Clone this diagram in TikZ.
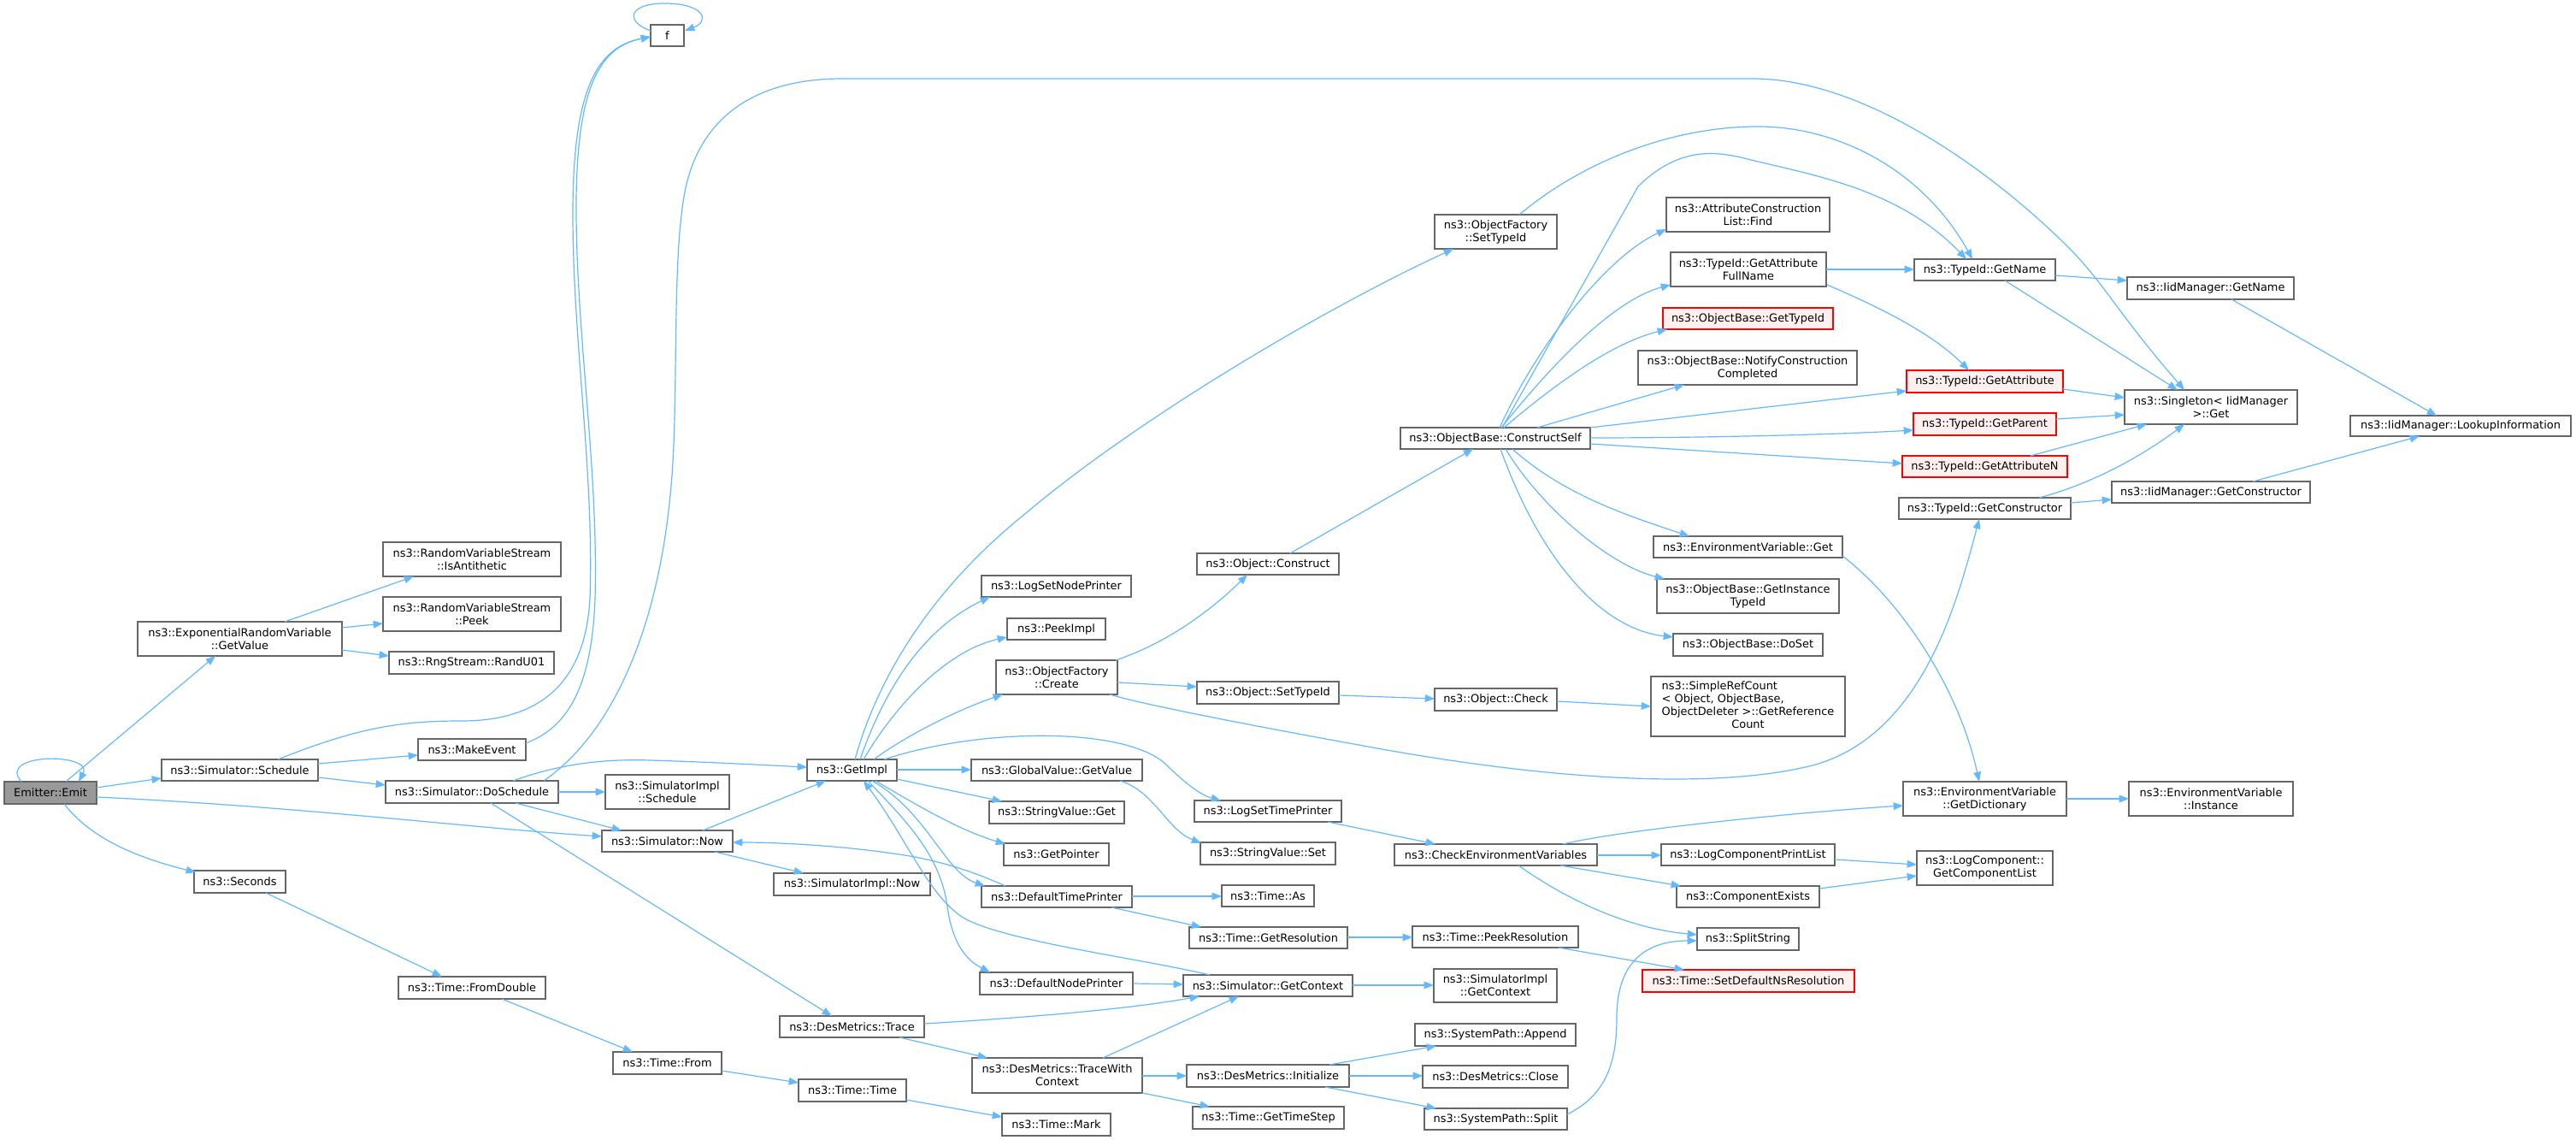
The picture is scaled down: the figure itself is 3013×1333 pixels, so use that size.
\documentclass[tikz,border=0pt]{standalone}
\usepackage{fontspec}
\setmainfont{DejaVu Sans}
\usetikzlibrary{arrows.meta}
\definecolor{edgec}{HTML}{63B8FF}
\definecolor{bordc}{HTML}{666666}
\definecolor{redfill}{HTML}{FFF0F0}
\definecolor{emitfill}{HTML}{999999}
\newcommand\mknode[7][]{\node[box,#1,minimum width={(#5-#3)*0.75pt},minimum height={(#6-#4)*0.75pt}] (#2) at ({(#3+#5)/2},{(#4+#6)/2}) {#7};}
\begin{document}
\begin{tikzpicture}[x=0.75pt,y=-0.75pt,
 box/.style={draw=bordc,fill=white,line width=1pt,inner sep=0pt,outer sep=0pt,align=center,text=black,font=\fontsize{9.7pt}{11.3pt}\selectfont},
 redst/.style={draw=red,fill=redfill},
 emitst/.style={draw=bordc,fill=emitfill},
 e/.style={draw=edgec,line width=0.9pt,-{Triangle[length=8.5pt,width=6.5pt]}}]
\useasboundingbox (0,0) rectangle (3013,1333);
% nodes
\mknode[emitst]{emit}{5}{914}{113}{940}{Emitter::Emit}
\mknode{erv}{161}{727}{400}{767}{ns3::ExponentialRandomVariable\\::GetValue}
\mknode{anti}{448}{634}{656}{674}{ns3::RandomVariableStream\\::IsAntithetic}
\mknode{peek}{448}{698}{656}{738}{ns3::RandomVariableStream\\::Peek}
\mknode{rand}{455}{762}{648}{788}{ns3::RngStream::RandU01}
\mknode{sched}{189}{888}{372}{913}{ns3::Simulator::Schedule}
\mknode{mkev}{489}{864}{615}{889}{ns3::MakeEvent}
\mknode{dosch}{451}{913}{653}{939}{ns3::Simulator::DoSchedule}
\mknode{f}{761}{29}{800}{54}{f}
\mknode{secs}{227}{1018}{334}{1044}{ns3::Seconds}
\mknode{fromd}{466}{1142}{638}{1168}{ns3::Time::FromDouble}
\mknode{from}{717}{1230}{844}{1256}{ns3::Time::From}
\mknode{ttime}{934}{1262}{1060}{1288}{ns3::Time::Time}
\mknode{mark}{1172}{1302}{1299}{1328}{ns3::Time::Mark}
\mknode{getimpl}{944}{888}{1049}{913}{ns3::GetImpl}
\mknode{simpsch}{708}{906}{853}{946}{ns3::SimulatorImpl\\::Schedule}
\mknode{now}{704}{971}{857}{996}{ns3::Simulator::Now}
\mknode{simpnow}{905}{1021}{1088}{1047}{ns3::SimulatorImpl::Now}
\mknode{trace}{912}{1188}{1081}{1213}{ns3::DesMetrics::Trace}
\mknode{twc}{1137}{1237}{1336}{1278}{ns3::DesMetrics::TraceWith\\Context}
\mknode{gv}{1136}{888}{1336}{913}{ns3::GlobalValue::GetValue}
\mknode{svget}{1157}{937}{1315}{963}{ns3::StringValue::Get}
\mknode{gptr}{1174}{986}{1297}{1012}{ns3::GetPointer}
\mknode{dtp}{1148}{1036}{1324}{1061}{ns3::DefaultTimePrinter}
\mknode{dnp}{1146}{1137}{1325}{1163}{ns3::DefaultNodePrinter}
\mknode{lsnp}{1148}{673}{1323}{698}{ns3::LogSetNodePrinter}
\mknode{peekimpl}{1178}{723}{1293}{748}{ns3::PeekImpl}
\mknode{create}{1165}{772}{1307}{812}{ns3::ObjectFactory\\::Create}
\mknode{construct}{1400}{647}{1566}{672}{ns3::Object::Construct}
\mknode{osti}{1400}{797}{1566}{823}{ns3::Object::SetTypeId}
\mknode{lstp}{1397}{936}{1569}{961}{ns3::LogSetTimePrinter}
\mknode{svset}{1404}{985}{1562}{1011}{ns3::StringValue::Set}
\mknode{cev}{1631}{987}{1868}{1012}{ns3::CheckEnvironmentVariables}
\mknode{lcpl}{1943}{987}{2146}{1012}{ns3::LogComponentPrintList}
\mknode{cex}{1961}{1036}{2128}{1061}{ns3::ComponentExists}
\mknode{split}{1985}{1085}{2104}{1111}{ns3::SplitString}
\mknode[redst]{sdnr}{1921}{1134}{2169}{1160}{ns3::Time::SetDefaultNsResolution}
\mknode{tas}{1429}{1035}{1537}{1060}{ns3::Time::As}
\mknode{tgr}{1391}{1084}{1576}{1109}{ns3::Time::GetResolution}
\mknode{tpr}{1652}{1083}{1846}{1108}{ns3::Time::PeekResolution}
\mknode{sgc}{1384}{1140}{1582}{1165}{ns3::Simulator::GetContext}
\mknode{sigc}{1677}{1133}{1821}{1172}{ns3::SimulatorImpl\\::GetContext}
\mknode{spa}{1655}{1197}{1843}{1223}{ns3::SystemPath::Append}
\mknode{init}{1388}{1245}{1578}{1271}{ns3::DesMetrics::Initialize}
\mknode{close}{1664}{1246}{1834}{1272}{ns3::DesMetrics::Close}
\mknode{gts}{1395}{1294}{1572}{1320}{ns3::Time::GetTimeStep}
\mknode{sps}{1666}{1296}{1833}{1321}{ns3::SystemPath::Split}
\mknode{ofsti}{1678}{251}{1821}{291}{ns3::ObjectFactory\\::SetTypeId}
\mknode{acl}{1949}{231}{2140}{271}{ns3::AttributeConstruction\\List::Find}
\mknode{gafn}{1954}{295}{2136}{335}{ns3::TypeId::GetAttribute\\FullName}
\mknode[redst]{obgt}{1945}{360}{2144}{385}{ns3::ObjectBase::GetTypeId}
\mknode{oncc}{1916}{410}{2172}{450}{ns3::ObjectBase::NotifyConstruction\\Completed}
\mknode{tgn}{2239}{303}{2404}{328}{ns3::TypeId::GetName}
\mknode[redst]{tga}{2230}{433}{2413}{459}{ns3::TypeId::GetAttribute}
\mknode[redst]{tgp}{2238}{483}{2405}{509}{ns3::TypeId::GetParent}
\mknode[redst]{tgan}{2225}{533}{2418}{558}{ns3::TypeId::GetAttributeN}
\mknode{ocs}{1638}{500}{1860}{525}{ns3::ObjectBase::ConstructSelf}
\mknode{tgc}{2221}{582}{2422}{607}{ns3::TypeId::GetConstructor}
\mknode{evget}{1934}{627}{2155}{652}{ns3::EnvironmentVariable::Get}
\mknode{ogit}{1938}{677}{2151}{717}{ns3::ObjectBase::GetInstance\\TypeId}
\mknode{doset}{1957}{741}{2132}{767}{ns3::ObjectBase::DoSet}
\mknode{ocheck}{1678}{805}{1821}{831}{ns3::Object::Check}
\mknode{src}{1931}{791}{2158}{861}{\begin{tabular}{@{}l@{}}ns3::SimpleRefCount\\< Object, ObjectBase,\\ObjectDeleter >::GetReference\\\multicolumn{1}{@{}c@{}}{Count}\end{tabular}}
\mknode{gdict}{2226}{914}{2417}{954}{ns3::EnvironmentVariable\\::GetDictionary}
\mknode{inst}{2490}{914}{2682}{954}{ns3::EnvironmentVariable\\::Instance}
\mknode{iidgn}{2488}{324}{2683}{350}{ns3::IidManager::GetName}
\mknode{single}{2485}{456}{2687}{496}{ns3::Singleton< IidManager\\>::Get}
\mknode{lookup}{2749}{486}{3007}{510}{ns3::IidManager::LookupInformation}
\mknode{iidgc}{2470}{563}{2702}{588}{ns3::IidManager::GetConstructor}
\mknode{lcgcl}{2242}{995}{2401}{1035}{ns3::LogComponent::\\GetComponentList}
% edges
\draw[e] ([shift={(20,0)}]emit.north west) .. controls (-5,880) and (110,880) .. ([shift={(87,0)}]emit.north west);
\draw[e] ([shift={(72,0)}]emit.north west) -- ([shift={(91,0)}]erv.south west);
\draw[e] ([shift={(0,7)}]emit.north east) -- ([shift={(0,22)}]sched.north west);
\draw[e] ([shift={(0,18)}]emit.north east) .. controls (350,943) and (550,968) .. ([shift={(0,7)}]now.north west);
\draw[e] ([shift={(70,0)}]emit.south west) .. controls (110,985) and (170,1005) .. ([shift={(2,2)}]secs.north west);
\draw[e] ([shift={(172,0)}]erv.north west) -- ([shift={(36,0)}]anti.south west);
\draw[e] ([shift={(0,7)}]erv.north east) -- ([shift={(0,31)}]peek.north west);
\draw[e] ([shift={(0,33)}]erv.north east) -- ([shift={(0,5)}]rand.north west);
\draw[e] ([shift={(136,0)}]sched.north west) .. controls (420,850) and (470,843) .. (540,843) .. controls (640,843) and (685,790) .. (690,700) .. controls (695,550) and (670,400) .. (670,250) .. controls (670,100) and (700,55) .. ([shift={(0,14)}]f.north west);
\draw[e] ([shift={(0,5)}]sched.north east) -- ([shift={(0,19)}]mkev.north west);
\draw[e] ([shift={(0,21)}]sched.north east) -- ([shift={(0,5)}]dosch.north west);
\draw[e] ([shift={(0,5)}]mkev.north east) .. controls (660,852) and (692,810) .. (696,700) .. controls (700,550) and (675,400) .. (674,250) .. controls (673,100) and (702,55) .. ([shift={(0,14)}]f.north west);
\draw[e] ([shift={(0,7)}]f.north west) .. controls (730,25) and (735,3) .. (780,4) .. controls (825,5) and (830,25) .. ([shift={(1,7)}]f.north east);
\draw[e] ([shift={(149,0)}]dosch.north west) .. controls (650,895) and (700,887) .. (760,889) .. controls (830,891) and (900,895) .. ([shift={(0,9)}]getimpl.north west);
\draw[e] ([shift={(185,0)}]dosch.north west) .. controls (720,855) and (780,720) .. (788,520) .. controls (792,420) and (788,300) .. (800,230) .. controls (815,140) and (880,92) .. (985,92) -- (2050,92) .. controls (2180,92) and (2330,200) .. (2420,290) .. controls (2460,330) and (2480,370) .. ([shift={(70,0)}]single.north west);
\draw[e] ([shift={(0,13)}]dosch.north east) -- ([shift={(0,20)}]simpsch.north west);
\draw[e] ([shift={(152,0)}]dosch.south west) -- ([shift={(23,0)}]now.north west);
\draw[e] ([shift={(123,0)}]dosch.south west) -- ([shift={(61,0)}]trace.north west);
\draw[e] ([shift={(118,0)}]now.north west) -- ([shift={(22,0)}]getimpl.south west);
\draw[e] ([shift={(132,0)}]now.south west) -- ([shift={(35,0)}]simpnow.north west);
\draw[e] ([shift={(0,12)}]getimpl.north east) -- ([shift={(0,12)}]gv.north west);
\draw[e] ([shift={(0,23)}]getimpl.north east) -- ([shift={(15,0)}]svget.north west);
\draw[e] ([shift={(80,0)}]getimpl.south west) .. controls (1070,940) and (1120,970) .. ([shift={(2,1)}]gptr.north west);
\draw[e] ([shift={(76,0)}]getimpl.south west) .. controls (1085,950) and (1105,1020) .. ([shift={(4,0)}]dtp.north west);
\draw[e] ([shift={(71,0)}]getimpl.south west) .. controls (1060,960) and (1100,1000) .. (1108,1060) .. controls (1115,1110) and (1135,1125) .. ([shift={(12,0)}]dnp.north west);
\draw[e] ([shift={(31,0)}]sgc.north west) .. controls (1330,1120) and (1170,1100) .. (1125,1072) .. controls (1085,1045) and (1060,980) .. ([shift={(66,0)}]getimpl.south west);
\draw[e] ([shift={(56,0)}]getimpl.north west) .. controls (1030,780) and (1100,680) .. (1200,600) .. controls (1330,490) and (1550,360) .. ([shift={(22,0)}]ofsti.south west);
\draw[e] ([shift={(62,0)}]getimpl.north west) .. controls (1040,790) and (1090,730) .. ([shift={(10,0)}]lsnp.south west);
\draw[e] ([shift={(66,0)}]getimpl.north west) .. controls (1050,820) and (1110,760) .. ([shift={(0,22)}]peekimpl.north west);
\draw[e] ([shift={(78,0)}]getimpl.north west) .. controls (1060,860) and (1120,830) .. ([shift={(8,0)}]create.south west);
\draw[e] ([shift={(90,0)}]getimpl.north west) .. controls (1150,850) and (1320,850) .. (1365,895) .. controls (1385,915) and (1405,930) .. ([shift={(31,0)}]lstp.north west);
\draw[e] ([shift={(-26,0)}]gv.south east) .. controls (1350,925) and (1365,970) .. ([shift={(1,1)}]svset.north west);
\draw[e] ([shift={(-2,0)}]create.north east) .. controls (1370,750) and (1420,710) .. ([shift={(59,0)}]construct.south west);
\draw[e] ([shift={(0,26)}]create.north east) -- ([shift={(0,6)}]osti.north west);
\draw[e] ([shift={(133,0)}]create.south west) .. controls (1340,825) and (1500,855) .. (1600,873) .. controls (1800,910) and (2000,925) .. (2120,895) .. controls (2250,860) and (2290,700) .. ([shift={(94,0)}]tgc.south west);
\draw[e] ([shift={(109,0)}]construct.north west) -- ([shift={(85,0)}]ocs.south west);
\draw[e] ([shift={(0,16)}]osti.north east) -- ([shift={(0,12)}]ocheck.north west);
\draw[e] ([shift={(0,15)}]ocheck.north east) -- ([shift={(0,35)}]src.north west);
\draw[e] ([shift={(156,0)}]lstp.south west) -- ([shift={(48,0)}]cev.north west);
\draw[e] ([shift={(-40,0)}]cev.north east) .. controls (1900,970) and (2100,950) .. ([shift={(0,28)}]gdict.north west);
\draw[e] ([shift={(0,13)}]cev.north east) -- ([shift={(0,13)}]lcpl.north west);
\draw[e] ([shift={(-43,0)}]cev.south east) -- ([shift={(5,0)}]cex.north west);
\draw[e] ([shift={(145,0)}]cev.south west) .. controls (1830,1050) and (1900,1085) .. ([shift={(0,8)}]split.north west);
\draw[e] ([shift={(0,18)}]lcpl.north east) -- ([shift={(0,16)}]lcgcl.north west);
\draw[e] ([shift={(0,3)}]cex.north east) -- ([shift={(0,29)}]lcgcl.north west);
\draw[e] ([shift={(0,12)}]dtp.north east) -- ([shift={(0,13)}]tas.north west);
\draw[e] ([shift={(-24,0)}]dtp.south east) -- ([shift={(14,0)}]tgr.north west);
\draw[e] ([shift={(28,0)}]dtp.north west) .. controls (1140,1020) and (1110,1010) .. (1070,1002) .. controls (1000,990) and (920,985) .. ([shift={(0,14)}]now.north east);
\draw[e] ([shift={(0,12)}]tgr.north east) -- ([shift={(0,13)}]tpr.north west);
\draw[e] ([shift={(-23,0)}]tpr.south east) -- ([shift={(49,0)}]sdnr.north west);
\draw[e] ([shift={(0,13)}]dnp.north east) -- ([shift={(0,11)}]sgc.north west);
\draw[e] ([shift={(0,12)}]sgc.north east) -- ([shift={(0,19)}]sigc.north west);
\draw[e] ([shift={(0,9)}]trace.north east) .. controls (1200,1190) and (1320,1180) .. ([shift={(19,0)}]sgc.south west);
\draw[e] ([shift={(140,0)}]trace.south west) -- ([shift={(18,0)}]twc.north west);
\draw[e] ([shift={(153,0)}]twc.north west) -- ([shift={(65,0)}]sgc.south west);
\draw[e] ([shift={(0,21)}]twc.north east) -- ([shift={(0,13)}]init.north west);
\draw[e] (twc.south east) -- ([shift={(20,0)}]gts.north west);
\draw[e] ([shift={(167,0)}]init.north west) -- ([shift={(25,0)}]spa.south west);
\draw[e] ([shift={(0,13)}]init.north east) -- ([shift={(0,12)}]close.north west);
\draw[e] ([shift={(162,0)}]init.south west) -- ([shift={(14,0)}]sps.north west);
\draw[e] ([shift={(0,7)}]sps.north east) .. controls (1880,1280) and (1891,1240) .. (1891,1190) .. controls (1891,1130) and (1920,1100) .. ([shift={(0,15)}]split.north west);
\draw[e] ([shift={(84,0)}]secs.south west) -- ([shift={(51,0)}]fromd.north west);
\draw[e] ([shift={(121,0)}]fromd.south west) -- ([shift={(23,0)}]from.north west);
\draw[e] ([shift={(0,22)}]from.north east) -- ([shift={(0,4)}]ttime.north west);
\draw[e] ([shift={(0,24)}]ttime.north east) -- ([shift={(0,4)}]mark.north west);
\draw[e] ([shift={(119,0)}]ocs.north west) -- (1916,218) .. controls (1960,175) and (2000,175) .. (2040,185) .. controls (2120,205) and (2220,220) .. ([shift={(61,0)}]tgn.north west);
\draw[e] ([shift={(99,0)}]ofsti.north west) .. controls (1850,190) and (1950,150) .. (2050,148) .. controls (2150,146) and (2250,200) .. ([shift={(68,0)}]tgn.north west);
\draw[e] ([shift={(116,0)}]ocs.north west) .. controls (1800,400) and (1880,300) .. ([shift={(0,37)}]acl.north west);
\draw[e] ([shift={(118,0)}]ocs.north west) .. controls (1820,420) and (1890,350) .. ([shift={(0,38)}]gafn.north west);
\draw[e] ([shift={(121,0)}]ocs.north west) .. controls (1830,440) and (1890,400) .. ([shift={(5,0)}]obgt.south west);
\draw[e] ([shift={(160,0)}]ocs.north west) -- ([shift={(54,0)}]oncc.south west);
\draw[e] (ocs.north east) -- ([shift={(0,24)}]tga.north west);
\draw[e] ([shift={(0,12)}]ocs.north east) .. controls (2000,512) and (2150,508) .. ([shift={(0,20)}]tgp.north west);
\draw[e] ([shift={(0,19)}]ocs.north east) -- ([shift={(0,9)}]tgan.north west);
\draw[e] ([shift={(131,0)}]ocs.south west) .. controls (1830,580) and (1910,605) .. ([shift={(42,0)}]evget.north west);
\draw[e] ([shift={(123,0)}]ocs.south west) .. controls (1800,590) and (1880,660) .. ([shift={(9,0)}]ogit.north west);
\draw[e] ([shift={(117,0)}]ocs.south west) .. controls (1800,650) and (1870,735) .. ([shift={(0,4)}]doset.north west);
\draw[e] ([shift={(0,20)}]gafn.north east) -- ([shift={(0,12)}]tgn.north west);
\draw[e] ([shift={(1,-2)}]gafn.south east) .. controls (2200,360) and (2260,390) .. ([shift={(73,0)}]tga.north west);
\draw[e] ([shift={(0,19)}]tgn.north east) -- ([shift={(0,4)}]iidgn.north west);
\draw[e] ([shift={(106,0)}]tgn.south west) -- ([shift={(62,0)}]single.north west);
\draw[e] ([shift={(122,0)}]iidgn.south west) -- ([shift={(101,0)}]lookup.north west);
\draw[e] ([shift={(0,22)}]tga.north east) -- ([shift={(0,9)}]single.north west);
\draw[e] ([shift={(0,7)}]tgp.north east) -- ([shift={(0,29)}]single.north west);
\draw[e] ([shift={(150,0)}]tgan.north west) -- ([shift={(26,0)}]single.south west);
\draw[e] ([shift={(164,0)}]tgc.north west) .. controls (2450,565) and (2510,530) .. ([shift={(70,0)}]single.south west);
\draw[e] ([shift={(0,6)}]tgc.north east) -- ([shift={(0,21)}]iidgc.north west);
\draw[e] ([shift={(165,0)}]iidgc.north west) -- ([shift={(81,0)}]lookup.south west);
\draw[e] ([shift={(0,-2)}]evget.south east) .. controls (2220,700) and (2290,800) .. ([shift={(89,0)}]gdict.north west);
\draw[e] ([shift={(0,20)}]gdict.north east) -- ([shift={(0,20)}]inst.north west);
\end{tikzpicture}
\end{document}
